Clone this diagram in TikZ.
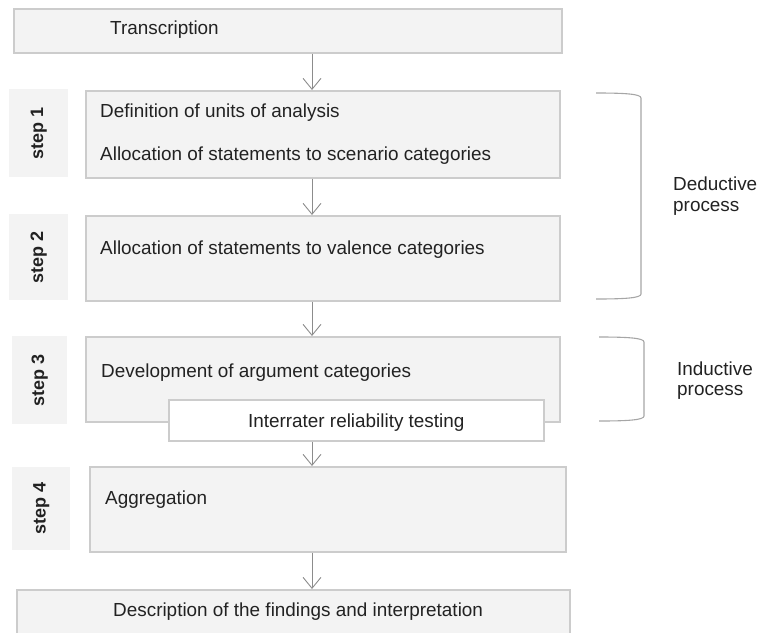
\documentclass[tikz,border=0pt]{standalone}
\usepackage{fontspec}
\setmainfont{Liberation Sans}
\usetikzlibrary{arrows.meta}
\definecolor{boxfill}{HTML}{F3F3F3}
\definecolor{boxline}{HTML}{CCCCCC}
\definecolor{arrowc}{HTML}{8C8C8C}
\definecolor{txt}{HTML}{222222}
\definecolor{brack}{HTML}{A6A6A6}
\begin{document}
\begin{tikzpicture}[x=1pt,y=-1pt,
  box/.style={draw=boxline, fill=boxfill, line width=1.5pt, inner sep=0pt, anchor=north west},
  whitebox/.style={box, fill=white},
  steplabel/.style={fill=boxfill, inner sep=0pt, anchor=north west},
  steptext/.style={rotate=90, font=\fontsize{18}{20}\selectfont\bfseries, text=txt, inner sep=0pt},
  lbl/.style={font=\fontsize{18.9}{21}\selectfont, text=txt, inner sep=0pt, anchor=base west},
  clbl/.style={lbl, anchor=base},
  flow/.style={draw=arrowc, line width=0.9pt, -{Straight Barb[length=11pt,width=18pt,line width=0.9pt]}},
  bracket/.style={draw=brack, line width=1.1pt}]
\useasboundingbox (0,0) rectangle (770,632);
\coordinate (ax) at (312,0);

% Transcription
\node[box, minimum width=548pt, minimum height=44pt] (tr) at (13,8) {};
\node[lbl] (trt) at (110,34) {Transcription};

% step 1
\node[steplabel, minimum width=59pt, minimum height=88pt] (s1) at (9,89) {};
\node[steptext] (s1t) at (s1.center) {step 1};
\node[box, minimum width=474pt, minimum height=87pt] (b1) at (85,90) {};
\node[lbl] (b1a) at (100,117) {Definition of units of analysis};
\node[lbl] (b1b) at (100,160) {Allocation of statements to scenario categories};

% step 2
\node[steplabel, minimum width=59pt, minimum height=86pt] (s2) at (9,214) {};
\node[steptext] (s2t) at (s2.center) {step 2};
\node[box, minimum width=474pt, minimum height=85pt] (b2) at (85,215) {};
\node[lbl] (b2a) at (100,254) {Allocation of statements to valence categories};

% step 3
\node[steplabel, minimum width=55pt, minimum height=88pt] (s3) at (12,336) {};
\node[steptext] (s3t) at (s3.center) {step 3};
\node[box, minimum width=474pt, minimum height=85pt] (b3) at (85,336) {};
\node[lbl] (b3a) at (101,377) {Development of argument categories};
\node[whitebox, minimum width=375pt, minimum height=41pt] (ir) at (168,399) {};
\node[clbl] (irt) at ([yshift=-7pt]ir.center) {Interrater reliability testing};

% step 4
\node[steplabel, minimum width=58pt, minimum height=83pt] (s4) at (12,467) {};
\node[steptext] (s4t) at (s4.center) {step 4};
\node[box, minimum width=476pt, minimum height=85pt] (b4) at (89,466) {};
\node[lbl] (b4a) at (105,504) {Aggregation};

% description
\node[box, minimum width=553pt, minimum height=44pt] (de) at (16,589) {};
\node[lbl] (det) at (113,616) {Description of the findings and interpretation};

% arrows
\draw[flow] (tr.south -| ax) -- (b1.north -| ax);
\draw[flow] (b1.south -| ax) -- (b2.north -| ax);
\draw[flow] (b2.south -| ax) -- (b3.north -| ax);
\draw[flow] (ir.south -| ax) -- (b4.north -| ax);
\draw[flow] (b4.south -| ax) -- (de.north -| ax);

% brackets
\draw[bracket] (596,93) .. controls (625,93) and (641,94) .. (641,98) -- (641,294) .. controls (641,298) and (625,299) .. (596,299);
\node[lbl] (ded1) at (673,190) {Deductive};
\node[lbl] (ded2) at (673,211) {process};

\draw[bracket] (599,337) .. controls (628,337) and (644,338) .. (644,342) -- (644,416) .. controls (644,420) and (628,421) .. (599,421);
\node[lbl] (ind1) at (677,375) {Inductive};
\node[lbl] (ind2) at (677,395) {process};
\end{tikzpicture}
\end{document}
